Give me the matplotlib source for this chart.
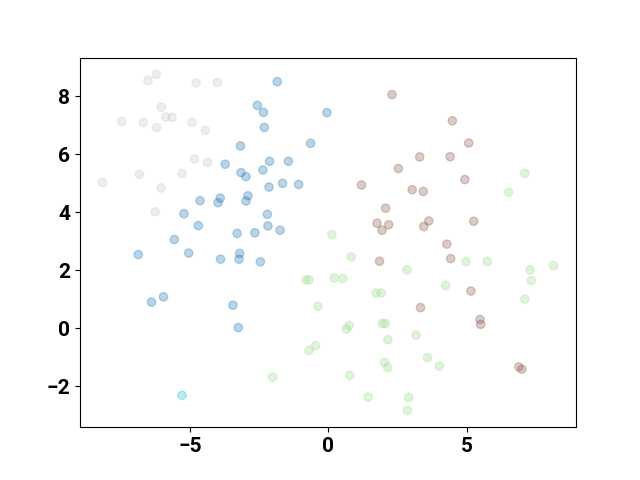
import matplotlib
matplotlib.use("Agg")
import matplotlib.pyplot as plt
import numpy as np

plt.rcParams['font.family'] = ['Roboto', 'DejaVu Sans']

# cluster 0 (blue)
x0 = [-1.84, -2.56, -2.34, -2.31, -0.05, -0.64, -3.17, -3.72, -2.12, -1.44,
      -2.36, -3.15, -2.97, -2.14, -1.65, -1.07, -3.90, -3.98, -2.90, -2.97,
      -4.63, -5.21, -2.20, -4.69, -2.18, -3.29, -2.65, -1.74, -5.56, -6.86,
      -5.04, -3.89, -3.20, -3.22, -2.45, -6.38, -5.95, -3.44, -3.25]
y0 = [8.51, 7.69, 7.45, 6.93, 7.44, 6.38, 6.29, 5.66, 5.76, 5.76,
      5.46, 5.37, 5.23, 4.87, 5.00, 4.96, 4.49, 4.33, 4.57, 4.39,
      4.40, 3.95, 3.93, 3.54, 3.53, 3.27, 3.29, 3.38, 3.06, 2.54,
      2.59, 2.38, 2.58, 2.38, 2.29, 0.90, 1.08, 0.79, 0.02]

# cluster 1 (light green)
x1 = [7.09, 6.51, 0.13, 0.83, 2.84, 4.97, 5.74, 7.28, 8.13, 7.33,
      7.10, 4.24, 0.21, 0.52, 1.73, 1.91, -0.37, -0.81, -0.69, -0.46,
      -0.70, -2.01, 0.75, 0.65, 1.95, 2.06, 2.15, 3.17, 2.03, 2.15,
      3.58, 4.01, 0.78, 1.44, 2.90, 2.86]
y1 = [5.34, 4.69, 3.23, 2.46, 2.01, 2.30, 2.30, 2.01, 2.16, 1.64,
      1.00, 1.48, 1.73, 1.71, 1.21, 1.21, 0.75, 1.67, 1.67, -0.60,
      -0.77, -1.69, 0.09, -0.03, 0.16, 0.16, -0.40, -0.24, -1.18, -1.36,
      -1.02, -1.31, -1.63, -2.38, -2.39, -2.84]

# cluster 2 (brown)
x2 = [2.30, 4.48, 5.07, 3.30, 4.40, 2.53, 1.20, 3.03, 3.43, 4.93,
      2.07, 1.76, 2.18, 1.94, 3.63, 3.45, 5.25, 4.28, 4.42, 1.85,
      5.15, 3.33, 5.48, 5.50, 6.88, 6.99]
y2 = [8.06, 7.16, 6.39, 5.91, 5.92, 5.51, 4.94, 4.78, 4.72, 5.13,
      4.14, 3.62, 3.57, 3.38, 3.70, 3.51, 3.69, 2.90, 2.40, 2.31,
      1.28, 0.71, 0.30, 0.13, -1.34, -1.42]

# cluster 3 (light gray)
x3 = [-8.15, -7.45, -6.68, -6.51, -6.21, -6.03, -5.87, -5.64, -6.20, -6.82,
      -6.03, -6.25, -5.28, -4.83, -4.36, -4.92, -4.44, -4.77, -4.01]
y3 = [5.03, 7.14, 7.10, 8.55, 8.76, 7.63, 7.29, 7.28, 6.92, 5.31,
      4.84, 4.02, 5.34, 5.84, 5.72, 7.10, 6.83, 8.47, 8.48]

# cluster 4 (cyan)
x4 = [-5.28]
y4 = [-2.32]

xticks = [-5, 0, 5]
yticks = [-2, 0, 2, 4, 6, 8]

tab20 = plt.get_cmap('tab20')
cluster_colors = [tab20(0), tab20(5), tab20(10), tab20(15), tab20(18)]

xs = [x0, x1, x2, x3, x4]
ys = [y0, y1, y2, y3, y4]
x = np.concatenate(xs)
y = np.concatenate(ys)
colors = [cluster_colors[i] for i, a in enumerate(xs) for _ in a]

fig, ax = plt.subplots(figsize=(6.4, 4.8), dpi=100)
ax.scatter(x, y, c=colors, alpha=0.3)
ax.set_xticks(xticks)
ax.set_yticks(yticks)
for lab in ax.get_xticklabels() + ax.get_yticklabels():
    lab.set_fontweight('bold')
    lab.set_fontsize(15)
fig.savefig('out.png')
